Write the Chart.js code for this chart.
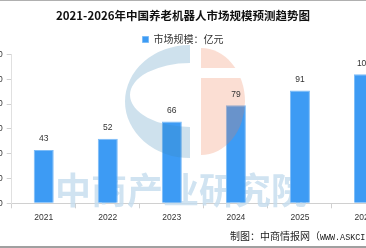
<!DOCTYPE html>
<html>
<head>
<meta charset="utf-8">
<script src="https://cdn.jsdelivr.net/npm/chart.js@4/dist/chart.umd.min.js"></script>
<style>
  html, body { margin: 0; padding: 0; background: #fff; }
  body { width: 366px; height: 248px; overflow: hidden; position: relative; }
  #wrap { position: absolute; left: -30px; top: 0; width: 426px; height: 248px; }
  #footer { position: absolute; left: 230px; top: 229px; font: 10px 'Noto Sans CJK SC', sans-serif; color: #222; white-space: nowrap; line-height: 14px; }
  #footer .a { font-family: 'Liberation Mono', 'DejaVu Sans Mono', monospace; font-size: 8.4px; }
  #topline { position: absolute; left: 0; top: 0; width: 366px; height: 1px; background: #b0b0b0; }
  #botline { position: absolute; left: 0; top: 246px; width: 366px; height: 2px; background: #a0a0a0; }
</style>
</head>
<body>
<div id="wrap"><canvas id="c"></canvas></div>
<div id="footer">制图：中商情报网（<span class="a">WWW.ASKCI.COM</span>）</div>
<div id="topline"></div>
<div id="botline"></div>
<script>
const titleText = '2021-2026年中国养老机器人市场规模预测趋势图';
const seriesLabel = '市场规模：亿元';
const years = ['2021', '2022', '2023', '2024', '2025', '2026'];
const marketSize = [43, 52, 66, 79, 91, 104];
const yTicks = [0, 20, 40, 60, 80, 100, 120];
const watermarkText = '中商产业研究院';

const CJK = "'Noto Sans CJK SC', 'Noto Sans', sans-serif";
const NUM = "'Liberation Sans', Arial, sans-serif";

const watermarkTextPlugin = {
  id: 'wmText',
  beforeDatasetsDraw(chart) {
    const ctx = chart.ctx;
    ctx.save();
    ctx.fillStyle = 'rgba(196,220,238,0.8)';
    ctx.font = '600 36px ' + CJK;
    ctx.textAlign = 'center';
    ctx.textBaseline = 'middle';
    ctx.fillText(watermarkText, 211, 190);
    ctx.restore();
  }
};

const logoPlugin = {
  id: 'logo',
  afterDatasetsDraw(chart) {
    const ctx = chart.ctx;
    const ox = 30; // canvas offset relative to page
    ctx.save();
    ctx.globalAlpha = 0.25;
    ctx.fillStyle = 'rgb(60,135,185)';
    ctx.beginPath();
    ctx.ellipse(190 + ox, 101.5, 65, 56.5, 0, Math.PI / 2, Math.PI * 1.5, false);
    ctx.closePath();
    ctx.ellipse(190 + ox, 95, 60, 32, 0, Math.PI * 1.5, Math.PI / 2, true);
    ctx.closePath();
    ctx.fill('evenodd');
    ctx.fillStyle = 'rgb(238,125,80)';
    ctx.beginPath();
    ctx.rect(201 + ox, 40, 60, 28);
    ctx.rect(201 + ox, 78, 60, 90);
    ctx.clip();
    ctx.beginPath();
    ctx.ellipse(201 + ox, 101.5, 44, 53.5, 0, -Math.PI / 2, Math.PI / 2, false);
    ctx.closePath();
    ctx.fill();
    ctx.restore();
  }
};

const valueLabelPlugin = {
  id: 'valueLabels',
  afterDatasetsDraw(chart) {
    const ctx = chart.ctx;
    const meta = chart.getDatasetMeta(0);
    ctx.save();
    ctx.fillStyle = '#333';
    ctx.font = '8.5px ' + NUM;
    ctx.textAlign = 'center';
    ctx.textBaseline = 'middle';
    meta.data.forEach((bar, i) => {
      ctx.fillText(String(chart.data.datasets[0].data[i]), bar.x, bar.y - 11);
    });
    ctx.restore();
  }
};

new Chart(document.getElementById('c'), {
  type: 'bar',
  data: {
    labels: years,
    datasets: [{
      label: seriesLabel,
      data: marketSize,
      backgroundColor: '#3d9bf4',
      borderColor: '#7dbcf7',
      borderWidth: 1,
      categoryPercentage: 1,
      barPercentage: 0.3125
    }]
  },
  options: {
    responsive: true,
    maintainAspectRatio: false,
    animation: false,
    layout: { padding: { top: 0, bottom: 24.7, left: 0, right: 0 } },
    plugins: {
      title: {
        display: true,
        text: titleText,
        color: '#111',
        font: { family: CJK, size: 11.5, weight: 'bold', lineHeight: 1.2 },
        padding: { top: 9, bottom: 3.7 }
      },
      legend: {
        display: true,
        labels: {
          boxWidth: 6, boxHeight: 6, padding: 8,
          color: '#333',
          font: { family: CJK, size: 10 }
        }
      },
      tooltip: { enabled: false }
    },
    scales: {
      x: {
        grid: { display: true, drawOnChartArea: false, drawTicks: true, tickLength: 5, color: '#d0d0d0', offset: true },
        border: { display: true, color: '#d0d0d0' },
        ticks: { color: '#333', font: { family: NUM, size: 8.5 }, padding: 4, maxRotation: 0 },
        afterFit(scale) { scale.height = 20; }
      },
      y: {
        min: 0, max: 120,
        afterBuildTicks(scale) { scale.ticks = yTicks.map(v => ({ value: v })); },
        grid: { display: true, drawOnChartArea: false, drawTicks: true, tickLength: 5, color: '#d0d0d0' },
        border: { display: true, color: '#e0e0e0' },
        ticks: { color: '#333', font: { family: NUM, size: 8.5 }, padding: 4 },
        afterFit(scale) { scale.width = 41.7; }
      }
    }
  },
  plugins: [watermarkTextPlugin, logoPlugin, valueLabelPlugin]
});
</script>
</body>
</html>
